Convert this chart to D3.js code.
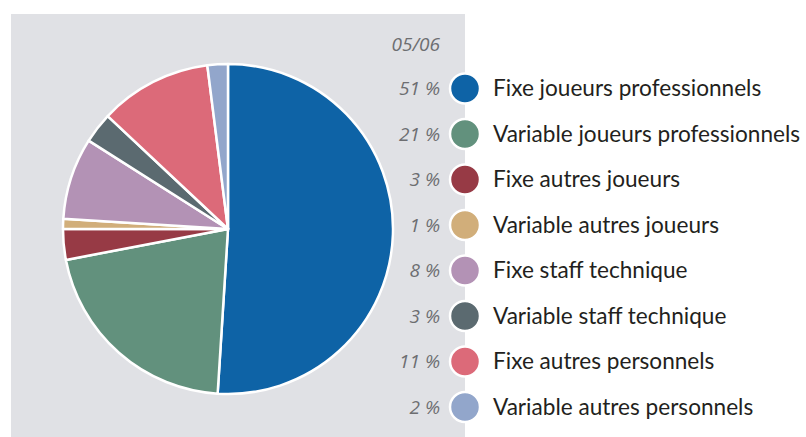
<!DOCTYPE html>
<html><head><meta charset="utf-8">
<script src="https://cdn.jsdelivr.net/npm/d3@7"></script>
<style>body{margin:0;background:#fff}svg{display:block}</style>
</head><body>
<svg id="c" width="806" height="437"></svg>
<script>
const categories = ["Fixe joueurs professionnels","Variable joueurs professionnels","Fixe autres joueurs","Variable autres joueurs","Fixe staff technique","Variable staff technique","Fixe autres personnels","Variable autres personnels"];
const values = [51,21,3,1,8,3,11,2];
const colors = ["#0e63a6","#62917d","#973a45","#d1ae7a","#b392b5","#5b6a70","#dc6a79","#92a6cb"];
const periodLabel = "05/06";

const svg = d3.select("#c");
svg.append("rect").attr("x",11).attr("y",14).attr("width",454).attr("height",423).attr("fill","#e0e1e5");

const cx = 228, cy = 229, r = 165;
const pie = d3.pie().sort(null).value(d=>d);
const arc = d3.arc().innerRadius(0).outerRadius(r);
const g = svg.append("g").attr("transform",`translate(${cx},${cy})`);
g.selectAll("path").data(pie(values)).join("path")
  .attr("d",arc).attr("fill",(d,i)=>colors[i])
  .attr("stroke","#fff").attr("stroke-width",2.5).attr("stroke-linejoin","round");

const y = d3.scalePoint().domain(categories).range([88.5, 407]);
const lg = svg.append("g");
lg.append("text").attr("x",440).attr("y",44).attr("dy","0.35em").attr("text-anchor","end")
  .attr("font-family","Open Sans, sans-serif").attr("font-style","italic").attr("font-size",19)
  .attr("fill","#6d6e71").text(periodLabel);
const items = lg.selectAll("g.it").data(categories).join("g").attr("class","it")
  .attr("transform",d=>`translate(0,${y(d)})`);
items.append("circle").attr("cx",465).attr("r",15).attr("fill",(d,i)=>colors[i])
  .attr("stroke","#fff").attr("stroke-width",2.5);
items.append("text").attr("x",440).attr("dy","0.35em").attr("text-anchor","end")
  .attr("font-family","Open Sans, sans-serif").attr("font-style","italic").attr("font-size",19)
  .attr("fill","#6d6e71").text((d,i)=>values[i]+" %");
items.append("text").attr("x",493).attr("dy","0.35em")
  .attr("font-family","Lato, sans-serif").attr("font-size",22.6)
  .attr("fill","#231f20").text(d=>d);
</script>
</body></html>
